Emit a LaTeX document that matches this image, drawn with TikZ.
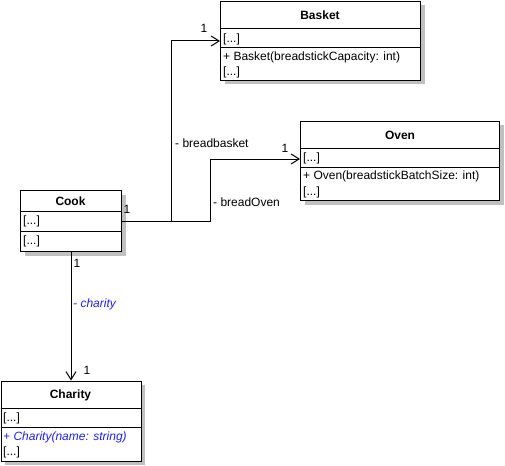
\documentclass[tikz,border=0pt]{standalone}
\usepackage{fontspec}
\setmainfont{Liberation Sans}
\usetikzlibrary{arrows.meta,shadows}
\definecolor{shadowgray}{HTML}{C0C0C0}
\definecolor{umlblue}{HTML}{2020F0}
\tikzset{
  x=1pt, y=-1pt,
  every node/.style={font=\fontsize{12}{14}\selectfont, inner sep=0pt},
  classbox/.style={draw, line width=1pt, fill=white, anchor=north west,
    drop shadow={shadow xshift=4pt, shadow yshift=-4pt, fill=shadowgray, opacity=1}},
  title/.style={font=\fontsize{12}{14}\selectfont\bfseries},
  member/.style={anchor=west},
  divider/.style={line width=1pt},
  assoc/.style={line width=1pt, -{Straight Barb[length=8pt,width=10pt,line width=1pt]}},
  mult/.style={anchor=base},
  rolename/.style={anchor=base west},
}
\begin{document}
\begin{tikzpicture}
\useasboundingbox (0,0) rectangle (505,465);

% Basket
\node[classbox, minimum width=200pt, minimum height=79pt] (basket) at (220,1) {};
\node[title] (basketT) at (320,15) {Basket};
\draw[divider] (220,29) -- (420,29);
\node[member] (basketA) at (223,39) {[...]};
\draw[divider] (220,48) -- (420,48);
\node[member] (basketM1) at (223,57) {+ Basket(breadstickCapacity: int)};
\node[member] (basketM2) at (223,72) {[...]};

% Oven
\node[classbox, minimum width=199pt, minimum height=79pt] (oven) at (300,121) {};
\node[title] (ovenT) at (400,135) {Oven};
\draw[divider] (300,149) -- (499,149);
\node[member] (ovenA) at (303,158) {[...]};
\draw[divider] (300,167) -- (499,167);
\node[member] (ovenM1) at (303,176) {+ Oven(breadstickBatchSize: int)};
\node[member] (ovenM2) at (303,192) {[...]};

% Cook
\node[classbox, minimum width=101pt, minimum height=61pt] (cook) at (20,190) {};
\node[title] (cookT) at (70.5,201) {Cook};
\draw[divider] (20,211) -- (121,211);
\node[member] (cookA) at (23,221) {[...]};
\draw[divider] (20,231) -- (121,231);
\node[member] (cookM) at (23,241) {[...]};

% Charity
\node[classbox, minimum width=140pt, minimum height=80pt] (charity) at (0.5,380.5) {};
\node[title] (charityT) at (70.5,395) {Charity};
\draw[divider] (0.5,408) -- (140.5,408);
\node[member] (charityA) at (3,418) {[...]};
\draw[divider] (0.5,427) -- (140.5,427);
\node[member, text=umlblue, font=\fontsize{12}{14}\selectfont\itshape] (charityM1) at (3,437) {+ Charity(name: string)};
\node[member] (charityM2) at (3,452) {[...]};

% connectors
\coordinate (basketIn) at (220,41);
\coordinate (ovenIn) at (300,159);
\draw[assoc] (cook.east) -| (171.5,41) -- (basketIn);
\draw[assoc] (cook.east) -| (210.5,159) -- (ovenIn);
\draw[assoc] (cook.south) -- (charity.north -| cook.south);

% labels
\node[mult] (m1) at (127,213) {1};
\node[rolename] (r1) at (175,147) {- breadbasket};
\node[mult] (m2) at (204,33) {1};
\node[rolename] (r2) at (213,206) {- breadOven};
\node[mult] (m3) at (285,153) {1};
\node[mult] (m4) at (77,267) {1};
\node[rolename, text=umlblue, font=\fontsize{12}{14}\selectfont\itshape] (r3) at (73,307) {- charity};
\node[mult] (m5) at (87,374) {1};
\end{tikzpicture}
\end{document}
